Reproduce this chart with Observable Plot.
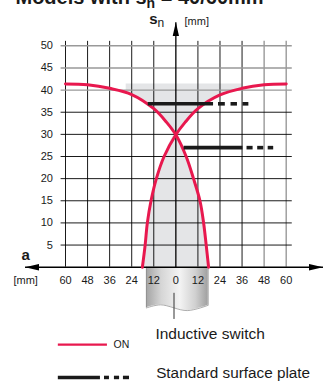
<!DOCTYPE html>
<html><head><meta charset="utf-8">
<script src="https://cdn.jsdelivr.net/npm/d3@7"></script>
<script src="https://cdn.jsdelivr.net/npm/@observablehq/plot@0.6"></script>
<style>html,body{margin:0;padding:0;background:#fff;overflow:hidden}</style>
</head><body><div id="chart"></div>
<script>
// ---- data ----
const xTicks = [-60, -48, -36, -24, -12, 0, 12, 24, 36, 48, 60];
const yTicks = [5, 10, 15, 20, 25, 30, 35, 40, 45, 50];
const curveAx = [-60, -48, -36, -24, -12, -5, 0, 5.6, 9.6, 13.1, 15.1, 16.5, 17.8];
const curveAy = [41.4, 41.2, 40.4, 39.0, 35.8, 32.7, 29.9, 25, 20, 15, 10, 5, 0];
const curveBx = [60, 48, 36, 24, 12, 5, 0, -6.4, -10.6, -13.5, -15.5, -16.7, -18.2];
const curveBy = [41.4, 41.2, 40.4, 38.9, 35.8, 32.7, 29.9, 25, 20, 15, 10, 5, 0];
const plateY = [36.9, 27.0];
const plateSolid = [[-15, 20.5], [4.5, 36.5]];
const plateDashes = [
  [[23.2, 26.9], [30, 33.5], [36.5, 39.7]],
  [[38.7, 42], [44.5, 47.8], [50.2, 53.2]]
];
const zoneTop = 41.4, zoneBand = 40, zoneX = [-27, 36];
const switchX = [-16, -8.3, 6.2, 17.6];
const switchBottom = [-9.2, -8.5, -9.8, -8.6];
const legendLabels = ["ON", "Inductive switch", "Standard surface plate"];
const titleText = "Models with s";

// ---- derived tables ----
const A = curveAx.map((x, i) => ({x, y: curveAy[i]}));
const B = curveBx.map((x, i) => ({x, y: curveBy[i]}));
function interp(pts, x) {
  const s = pts.slice().sort((a, b) => a.x - b.x);
  for (let i = 0; i < s.length - 1; i++) {
    if (x >= s[i].x && x <= s[i + 1].x) {
      const t = (x - s[i].x) / (s[i + 1].x - s[i].x);
      return s[i].y + t * (s[i + 1].y - s[i].y);
    }
  }
  return s[s.length - 1].y;
}
const upper = [];
upper.push({x: zoneX[0], y: interp(A, zoneX[0])});
A.filter(d => d.x > zoneX[0] && d.x <= 0).forEach(d => upper.push(d));
B.filter(d => d.x > 0 && d.x < zoneX[1]).sort((a, b) => a.x - b.x).forEach(d => upper.push(d));
upper.push({x: (24 + zoneX[1]) / 2, y: interp(B, (24 + zoneX[1]) / 2)});
upper.push({x: zoneX[1], y: interp(B, zoneX[1])});
upper.sort((a, b) => a.x - b.x);
const upperZone = upper.map(d => ({x: d.x, y1: Math.min(d.y, zoneBand), y2: zoneTop}));
const lowerZone = B.filter(d => d.x < 0).sort((a, b) => a.x - b.x)
  .concat([{x: 0, y: 29.9}])
  .concat(A.filter(d => d.x > 0));
const switchBody = switchX.map((x, i) => ({x, y: switchBottom[i]}));
const plates = plateY.map((y, i) => ({y, x1: plateSolid[i][0], x2: plateSolid[i][1]}));
const dashes = plateY.flatMap((y, i) => plateDashes[i].map(([x1, x2]) => ({y, x1, x2})));

// ---- layout constants ----
const RED = "#e8184e";
const GREY = "#e4e5e7";
const leg = {x1: -63.9, redX2: -37.2, redY: -17.5, blkX2: -41.0, blkY: -24.9,
  dash: [[-38.8, -36.1], [-33.4, -30.6], [-28.5, -25.2]]};

const chart = Plot.plot({
  width: 329, height: 381, margin: 0,
  x: {domain: [-60, 60], range: [65, 285.7], axis: null},
  y: {domain: [0, 50], range: [266.7, 45.3], axis: null},
  style: {fontFamily: "'Liberation Sans', Arial, sans-serif", fontSize: "11px", background: "#fff", overflow: "visible", color: "#1a1a1a"},
  marks: [
    Plot.areaY(upperZone, {x: "x", y1: "y1", y2: "y2", fill: GREY, curve: "catmull-rom"}),
    Plot.areaY(lowerZone, {x: "x", y1: 0, y2: "y", fill: GREY, curve: "catmull-rom"}),
    // grid
    Plot.ruleX(xTicks.filter(d => d !== 0 && d < 48), {x: d => d, y1: 0, y2: 51, stroke: "#000", strokeWidth: 0.9}),
    Plot.ruleX(xTicks.filter(d => d >= 48), {x: d => d, y1: 0, y2: 51, stroke: "#999", strokeWidth: 1.4}),
    Plot.ruleY(yTicks.filter(d => d < 40), {y: d => d, x1: -62.4, x2: 63.3, stroke: "#000", strokeWidth: 0.9}),
    Plot.ruleY(yTicks.filter(d => d >= 40), {y: d => d, x1: -62.4, x2: 63.3, stroke: "#999", strokeWidth: 1.4}),
    // switch body
    Plot.areaY(switchBody, {x: "x", y1: 0, y2: "y", fill: "url(#bodyGrad)", curve: "catmull-rom"}),
    Plot.lineY(switchBody, {x: "x", y: "y", stroke: "#8a8a8a", strokeWidth: 0.7, curve: "catmull-rom"}),
    Plot.ruleX([0, switchX.length - 1], {x: i => switchX[i], y1: 0, y2: i => switchBottom[i], stroke: "#8a8a8a", strokeWidth: 0.7}),
    Plot.ruleX([-1], {x: d => d, y1: -5.9, y2: -11.8, stroke: "#333", strokeWidth: 1}),
    // axes
    Plot.link([{x1: -82, x2: 80}], {x1: "x1", x2: "x2", y1: 0, y2: 0, stroke: "#000", strokeWidth: 1.5, ariaDescription: "xaxisline"}),
    Plot.link([{y1: 0, y2: 55.3}], {x1: 0, x2: 0, y1: "y1", y2: "y2", stroke: "#000", strokeWidth: 1.3, ariaDescription: "yaxisline"}),
    // curves
    Plot.line(A, {x: "x", y: "y", stroke: RED, strokeWidth: 3, curve: "catmull-rom"}),
    Plot.line(B, {x: "x", y: "y", stroke: RED, strokeWidth: 3, curve: "catmull-rom"}),
    // plates
    Plot.ruleY(plates, {y: "y", x1: "x1", x2: "x2", stroke: "#1a1a1a", strokeWidth: 3.6}),
    Plot.ruleY(dashes, {y: "y", x1: "x1", x2: "x2", stroke: "#1a1a1a", strokeWidth: 3.6}),
    // tick labels
    Plot.text(xTicks, {x: d => d, y: -3.0, text: d => String(Math.abs(d)), fontSize: 11}),
    Plot.text(yTicks, {x: -66.8, y: d => d, text: d => String(d), textAnchor: "end", fontSize: 11}),
    // axis labels
    Plot.text(["s"], {x: -14.5, y: 56.1, text: d => d, textAnchor: "start", fontSize: 15, fontWeight: "bold", ariaDescription: "snlabel"}),
    Plot.text(["[mm]"], {x: 4.7, y: 55.6, text: d => d, textAnchor: "start", fontSize: 11}),
    Plot.text(["a"], {x: -83.9, y: 2.8, text: d => d, textAnchor: "start", fontSize: 15, fontWeight: "bold"}),
    Plot.text(["[mm]"], {x: -88.3, y: -3.0, text: d => d, textAnchor: "start", fontSize: 11}),
    // title (cut off at the top, as in the source)
    Plot.text([titleText], {x: -87.2, y: 60.8, text: d => d, textAnchor: "start", fontSize: 20, fontWeight: "bold", ariaDescription: "title"}),
    // legend
    Plot.ruleY([leg.redY], {y: d => d, x1: leg.x1, x2: leg.redX2, stroke: RED, strokeWidth: 2.2}),
    Plot.ruleY([leg.blkY], {y: d => d, x1: leg.x1, x2: leg.blkX2, stroke: "#1a1a1a", strokeWidth: 3.5}),
    Plot.ruleY(leg.dash, {y: leg.blkY, x1: d => d[0], x2: d => d[1], stroke: "#1a1a1a", strokeWidth: 3.5}),
    Plot.text([legendLabels[0]], {x: -33.9, y: -17.5, text: d => d, textAnchor: "start", fontSize: 10.5}),
    Plot.text([legendLabels[1]], {x: -11.1, y: -15.0, text: d => d, textAnchor: "start", fontSize: 15.5}),
    Plot.text([legendLabels[2]], {x: -10.7, y: -24.0, text: d => d, textAnchor: "start", fontSize: 15.3})
  ]
});

function findAll(label, tag) {
  const out = [];
  chart.querySelectorAll('[aria-description="' + label + '"]').forEach(n => {
    if (n.tagName.toLowerCase() === tag) out.push(n);
    else n.querySelectorAll(tag).forEach(m => out.push(m));
  });
  return out;
}

const svg = d3.select(chart.tagName.toLowerCase() === "svg" ? chart : chart.querySelector("svg"));
const defs = svg.insert("defs", ":first-child");
const g = defs.append("linearGradient").attr("id", "bodyGrad").attr("x1", "0").attr("x2", "1").attr("y1", "0").attr("y2", "0");
[[0, "#a3a3a3"], [0.25, "#d6d6d6"], [0.55, "#f3f3f3"], [0.8, "#d0d0d0"], [1, "#a0a0a0"]].forEach(([o, c]) =>
  g.append("stop").attr("offset", o).attr("stop-color", c));
defs.append("marker").attr("id", "ah").attr("markerUnits", "userSpaceOnUse")
  .attr("markerWidth", 14).attr("markerHeight", 7).attr("refX", 13).attr("refY", 3)
  .attr("orient", "auto-start-reverse").attr("viewBox", "0 0 13 6")
  .append("path").attr("d", "M0,0L13,3L0,6Z").attr("fill", "#000");
findAll("xaxisline", "path").forEach(p => { p.setAttribute("marker-end", "url(#ah)"); p.setAttribute("marker-start", "url(#ah)"); });
findAll("yaxisline", "path").forEach(p => p.setAttribute("marker-end", "url(#ah)"));
findAll("title", "text").forEach(n => {
  const t = d3.select(n);
  t.text(titleText);
  t.append("tspan").attr("font-size", 14).attr("dy", 4).text("n");
  t.append("tspan").attr("dy", -4).text(" = 40/60mm");
});
findAll("snlabel", "text").forEach(n => {
  d3.select(n).append("tspan").attr("font-size", 12).attr("font-weight", "normal").attr("dy", 3).text("n");
});
document.getElementById("chart").appendChild(chart);
</script>
</body></html>
